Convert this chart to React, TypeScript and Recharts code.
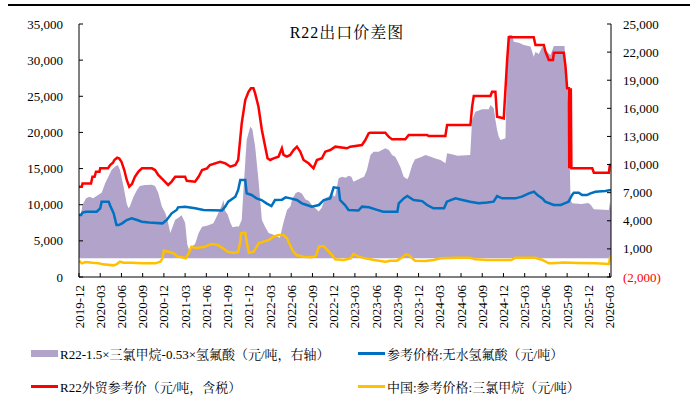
import React from 'react';
import { ComposedChart, Area, Line, XAxis, YAxis } from 'recharts';

const font = '"Liberation Serif","Times New Roman","Noto Serif CJK SC","Noto Sans CJK SC",serif';

// x axis: months since 2019-12
const tickMonths = [0, 3, 6, 9, 12, 15, 18, 21, 24, 27, 30, 33, 36, 39, 42, 45, 48, 51, 54, 57, 60, 63, 66, 69, 72, 75];
const tickLabels = ['2019-12', '2020-03', '2020-06', '2020-09', '2020-12', '2021-03', '2021-06', '2021-09', '2021-12', '2022-03', '2022-06', '2022-09', '2022-12', '2023-03', '2023-06', '2023-09', '2023-12', '2024-03', '2024-06', '2024-09', '2024-12', '2025-03', '2025-06', '2025-09', '2025-12', '2026-03'];
const leftTicks = [0, 5000, 10000, 15000, 20000, 25000, 30000, 35000];
const rightTicks = [-2000, 1000, 4000, 7000, 10000, 13000, 16000, 19000, 22000, 25000];

// R22-1.5×三氯甲烷-0.53×氢氟酸 (right axis)
const spreadT = [0, 0.3, 0.5, 1.0, 1.5, 2.0, 2.7, 3.2, 3.7, 4.15, 4.6, 5.1, 5.5, 5.8, 6.3, 6.75, 7.0, 7.2, 7.7, 8.2, 8.6, 9.3, 10.3, 10.75, 11.2, 11.7, 12.2, 12.6, 12.9, 13.3, 13.6, 14.0, 14.5, 15.0, 15.3, 15.6, 16.0, 16.4, 16.9, 17.4, 18.2, 19.0, 19.5, 20.2, 20.4, 20.7, 21.0, 21.4, 21.7, 22.2, 22.6, 23.0, 23.25, 23.7, 24.2, 24.5, 24.9, 25.37, 25.85, 26.3, 26.8, 27.5, 28.0, 28.4, 28.9, 29.4, 29.9, 30.1, 30.6, 31.0, 31.5, 32.0, 32.5, 32.9, 33.4, 33.9, 34.3, 34.8, 35.3, 35.8, 36.2, 36.7, 37.2, 37.7, 38.1, 38.5, 38.8, 39.3, 39.8, 40.3, 40.7, 41.2, 41.65, 42.35, 43.3, 43.8, 44.25, 44.7, 44.95, 45.4, 45.9, 46.4, 46.6, 47.1, 47.5, 48.2, 49.0, 49.7, 50.4, 51.1, 51.8, 52.03, 52.7, 53.5, 55.3, 55.57, 56.04, 56.98, 57.92, 58.16, 58.63, 58.86, 59.1, 59.33, 59.6, 60.28, 60.52, 60.75, 61.22, 61.46, 62.2, 62.87, 63.82, 64.28, 64.52, 65.0, 65.47, 65.9, 66.65, 67.12, 68.63, 68.77, 69.0, 69.24, 69.48, 69.72, 71.0, 72.0, 72.31, 72.78, 74.9, 75.05, 75.2];
const spreadV = [4700, 4830, 5700, 6400, 6570, 6400, 6750, 7000, 8000, 8710, 9420, 9780, 9950, 9400, 7640, 5810, 5330, 5540, 6570, 7280, 7710, 7820, 7850, 7700, 7000, 5540, 4830, 3760, 2690, 3500, 4100, 4300, 4600, 3800, 1500, 800, 1300, 1500, 2660, 3370, 3500, 3730, 4500, 5680, 6220, 5000, 4700, 3800, 3300, 3400, 3400, 4080, 7280, 12620, 14040, 13800, 11910, 8350, 4080, 3370, 2700, 2500, 2300, 2200, 3800, 5150, 5540, 6220, 6930, 7100, 6900, 6300, 6100, 5700, 5330, 4980, 5400, 6400, 6600, 6750, 6600, 8530, 8700, 8600, 8800, 8700, 8170, 8350, 8530, 8700, 9420, 11020, 11370, 11370, 11730, 11550, 11020, 10840, 10490, 9780, 8700, 8430, 8700, 9950, 10560, 10750, 11020, 10840, 10650, 10490, 10130, 11200, 11100, 10950, 11020, 14760, 15640, 15900, 15900, 16360, 16000, 14760, 13690, 12970, 12620, 12800, 21000, 23830, 23830, 23110, 23000, 22760, 22600, 21510, 22000, 21800, 22580, 22200, 21700, 22650, 22650, 20800, 18310, 14760, 6220, 5860, 5800, 5900, 5700, 5220, 5150, 6040, 5200];

// R22外贸参考价 (left axis)
const r22T = [0, 0.4, 0.5, 1.7, 1.9, 2.2, 2.4, 2.9, 3.0, 4.1, 4.4, 4.8, 5.0, 5.4, 5.7, 6.0, 6.4, 6.75, 7.1, 7.5, 7.9, 8.4, 8.9, 10.3, 10.75, 11.2, 11.9, 12.6, 13.1, 13.6, 15.0, 15.24, 16.4, 16.9, 17.4, 18.1, 18.5, 19.95, 20.7, 21.4, 22.1, 22.5, 23.0, 23.5, 23.96, 24.3, 24.66, 24.9, 25.37, 25.85, 26.32, 26.65, 27.03, 27.5, 28.2, 28.68, 28.91, 29.39, 29.86, 30.33, 30.8, 31.27, 31.74, 32.45, 33.15, 33.63, 34.34, 34.81, 35.52, 36.23, 37.88, 38.35, 40.0, 40.47, 40.95, 41.18, 43.3, 43.77, 44.25, 46.13, 46.6, 49.2, 49.43, 51.79, 52.03, 55.33, 55.57, 55.8, 58.16, 58.39, 58.86, 59.1, 60.04, 60.52, 60.75, 64.28, 64.52, 65.7, 65.94, 66.41, 67.0, 67.12, 68.53, 68.77, 69.0, 69.25, 69.3, 69.38, 69.45, 69.52, 69.6, 72.55, 72.78, 74.9, 75.04, 75.2];
const r22V = [12500, 12500, 12950, 12950, 13870, 13870, 14570, 14570, 15030, 15030, 15490, 15800, 16190, 16500, 16400, 15950, 14800, 13420, 12490, 12900, 13870, 14570, 15030, 15030, 14800, 14110, 13420, 12730, 13200, 13870, 13870, 13300, 13190, 13870, 14800, 15030, 15490, 15950, 15720, 15260, 15490, 16190, 21260, 24490, 25630, 26100, 26100, 25400, 23560, 20340, 18030, 16420, 16190, 16420, 16650, 17800, 16900, 16650, 16880, 17570, 18030, 17340, 16190, 15730, 15040, 16190, 16420, 17340, 17570, 18030, 17800, 18030, 18260, 18950, 19880, 19970, 19970, 19410, 19040, 19040, 19640, 19640, 19500, 19500, 21030, 21030, 23560, 25040, 25040, 25630, 25630, 22170, 21950, 30020, 33160, 33160, 32100, 32100, 31170, 30020, 30020, 31030, 31030, 29100, 26100, 26100, 15030, 26100, 15030, 26100, 15030, 15030, 14430, 14430, 15490, 15490];

// 参考价格:无水氢氟酸 (left axis)
const hfT = [0, 0.3, 0.5, 1.0, 2.5, 3.0, 3.2, 4.2, 4.4, 4.9, 5.3, 5.6, 6.1, 6.75, 7.45, 8.2, 8.9, 9.9, 11.8, 12.4, 13.1, 13.8, 14.0, 15.0, 16.4, 17.6, 20.2, 20.66, 21.1, 22.1, 22.5, 22.8, 23.5, 23.7, 24.4, 25.1, 25.8, 26.5, 27.2, 27.7, 28.7, 29.2, 29.9, 30.8, 31.5, 32.2, 32.9, 33.9, 34.6, 35.5, 36.0, 36.7, 36.9, 37.6, 38.1, 39.5, 40.0, 41.0, 41.9, 43.0, 45.0, 45.2, 45.9, 46.4, 47.3, 48.5, 49.2, 50.1, 51.6, 52.0, 53.2, 54.2, 55.3, 56.5, 57.7, 58.6, 59.1, 59.8, 61.7, 62.6, 63.6, 64.3, 64.8, 65.5, 65.9, 67.1, 68.1, 68.8, 69.2, 69.7, 69.95, 70.65, 71.1, 71.8, 72.3, 73.0, 74.4, 75.2];
const hfV = [8580, 8580, 8900, 9030, 9030, 9500, 10420, 10420, 9900, 8810, 7190, 7190, 7420, 7880, 8120, 7880, 7650, 7550, 7420, 7900, 8810, 9270, 9640, 9730, 9500, 9270, 9200, 9730, 10420, 11110, 12040, 13420, 13420, 11580, 11350, 10880, 10650, 10190, 9820, 10650, 10700, 11020, 10880, 10650, 10190, 9960, 9730, 9960, 10650, 10880, 12410, 12300, 10650, 9960, 9270, 9200, 9730, 9650, 9360, 9030, 9030, 10190, 10880, 11200, 10650, 10500, 9960, 9500, 9500, 10420, 10880, 10650, 10420, 10200, 10300, 10420, 11200, 10880, 10880, 11110, 11580, 11800, 11340, 10880, 10420, 9960, 9960, 10250, 10420, 11340, 11660, 11660, 11340, 11340, 11580, 11800, 11900, 12040];

// 中国:参考价格:三氯甲烷 (left axis)
const tcmT = [0, 0.4, 0.9, 1.9, 2.8, 3.4, 4.8, 5.3, 5.8, 6.3, 7.5, 8.9, 10.8, 11.5, 11.8, 12.0, 12.7, 13.4, 13.9, 14.6, 15.1, 15.5, 15.9, 16.6, 17.8, 18.7, 19.6, 20.3, 21.0, 21.7, 22.5, 22.8, 22.9, 23.5, 23.7, 24.0, 24.7, 25.4, 26.1, 26.8, 27.5, 28.2, 28.9, 29.4, 29.9, 30.3, 30.8, 31.7, 32.9, 33.5, 33.9, 34.6, 35.1, 35.8, 36.2, 37.4, 38.4, 38.8, 39.5, 40.5, 41.7, 43.3, 44.0, 44.95, 45.7, 46.2, 46.6, 47.1, 47.5, 49.0, 50.1, 51.1, 53.5, 55.3, 56.0, 57.7, 59.6, 61.1, 61.7, 64.5, 65.5, 66.4, 67.5, 68.5, 70.5, 73.0, 74.9, 75.1, 75.2];
const tcmV = [2260, 1890, 2060, 1960, 1890, 1750, 1610, 1750, 2120, 1980, 1980, 1890, 1890, 2120, 2580, 3640, 3500, 3270, 2810, 2720, 2580, 3270, 4190, 4000, 4190, 4570, 4450, 4000, 3500, 3360, 3430, 4900, 6040, 6130, 4900, 3360, 3500, 4660, 4900, 5120, 5580, 5810, 5810, 5350, 4300, 3500, 3000, 2810, 2720, 2900, 4190, 4280, 3720, 3000, 2440, 2350, 2580, 3180, 2810, 2580, 2350, 2120, 2260, 2260, 2720, 3140, 3050, 2580, 2260, 2200, 2350, 2580, 2650, 2650, 2450, 2350, 2350, 2350, 2670, 2650, 2350, 1890, 1950, 2000, 1950, 1890, 1800, 2810, 2900];

const zip = (ts: number[], vs: number[]) => ts.map((t, i) => ({ t, v: vs[i] }));
const spreadData = zip(spreadT, spreadV);
const r22Data = zip(r22T, r22V);
const hfData = zip(hfT, hfV);
const tcmData = zip(tcmT, tcmV);

const PURPLE = '#b1a3c9';
const RED = '#ff0000';
const BLUE = '#0070c0';
const YELLOW = '#ffc000';

const fmt = (v: number) => Math.abs(v).toLocaleString('en-US');

const XTick = (props: any) => {
  const { x, y, payload } = props;
  const idx = tickMonths.indexOf(payload.value);
  return (
    <text x={x} y={y} transform={`rotate(-90 ${x} ${y})`} textAnchor="end" dy="0.35em"
      fontSize={13} fontFamily={font} fill="#000">{tickLabels[idx]}</text>
  );
};

const LTick = (props: any) => {
  const { x, y, payload } = props;
  return (
    <text x={x} y={y} textAnchor="end" dy="0.35em" fontSize={13} fontFamily={font} fill="#000">{fmt(payload.value)}</text>
  );
};

const RTick = (props: any) => {
  const { x, y, payload } = props;
  const v = payload.value as number;
  return (
    <text x={x} y={y} textAnchor="start" dy="0.35em" fontSize={13} fontFamily={font} fill={v < 0 ? RED : '#000'}>
      {v < 0 ? `(${fmt(v)})` : fmt(v)}
    </text>
  );
};

const legendItems = [
  { label: 'R22-1.5×三氯甲烷-0.53×氢氟酸（元/吨，右轴）', color: PURPLE, box: true, left: 31, top: 353 },
  { label: '参考价格:无水氢氟酸（元/吨）', color: BLUE, box: false, left: 358, top: 353 },
  { label: 'R22外贸参考价（元/吨，含税）', color: RED, box: false, left: 31, top: 386 },
  { label: '中国:参考价格:三氯甲烷（元/吨）', color: YELLOW, box: false, left: 358, top: 386 },
];

export default function App() {
  return (
    <div style={{ position: 'absolute', left: 0, top: 0, width: 694, height: 400, background: '#fff', fontFamily: font }}>
      <div style={{ position: 'absolute', left: 8, top: 4, width: 682, height: 2, background: '#000' }} />
      <div style={{ position: 'absolute', left: 0, top: 20, width: 694, textAlign: 'center', fontSize: 16, color: '#000', letterSpacing: 1 }}>
        R22出口价差图
      </div>
      <ComposedChart width={694} height={400} margin={{ top: 24, right: 0, bottom: 0, left: 0 }}>
        <XAxis xAxisId="x" type="number" dataKey="t" domain={[0, 75.2]} ticks={tickMonths} interval={0}
          allowDataOverflow height={123} tickSize={-4} tickMargin={12}
          axisLine={{ stroke: '#000' }} tickLine={{ stroke: '#000' }} tick={(p: any) => <XTick {...p} />} />
        <YAxis yAxisId="left" orientation="left" domain={[0, 35000]} ticks={leftTicks} width={79}
          allowDataOverflow tickSize={-4} tickMargin={20} axisLine={{ stroke: '#000' }} tickLine={{ stroke: '#000' }}
          tick={(p: any) => <LTick {...p} />} />
        <YAxis yAxisId="right" orientation="right" domain={[-2000, 25000]} ticks={rightTicks} width={83}
          allowDataOverflow tickSize={-4} tickMargin={16} axisLine={{ stroke: '#000' }} tickLine={{ stroke: '#000' }}
          tick={(p: any) => <RTick {...p} />} />
        <Area xAxisId="x" yAxisId="right" data={spreadData} dataKey="v" type="linear" baseValue={0}
          fill={PURPLE} fillOpacity={1} stroke="none" isAnimationActive={false} dot={false} activeDot={false} />
        <Line xAxisId="x" yAxisId="left" data={r22Data} dataKey="v" type="linear" stroke={RED} strokeWidth={2.5}
          dot={false} activeDot={false} isAnimationActive={false} />
        <Line xAxisId="x" yAxisId="left" data={hfData} dataKey="v" type="linear" stroke={BLUE} strokeWidth={2.5}
          dot={false} activeDot={false} isAnimationActive={false} />
        <Line xAxisId="x" yAxisId="left" data={tcmData} dataKey="v" type="linear" stroke={YELLOW} strokeWidth={2.5}
          dot={false} activeDot={false} isAnimationActive={false} />
      </ComposedChart>
      {legendItems.map((it) => (
        <div key={it.label} style={{ position: 'absolute', left: it.left, top: it.top - 9, height: 18, display: 'flex', alignItems: 'center', fontSize: 13, color: '#000', whiteSpace: 'nowrap' }}>
          <div style={{ width: 27, height: it.box ? 7 : 3, background: it.color, marginRight: 2 }} />
          <span>{it.label}</span>
        </div>
      ))}
    </div>
  );
}
